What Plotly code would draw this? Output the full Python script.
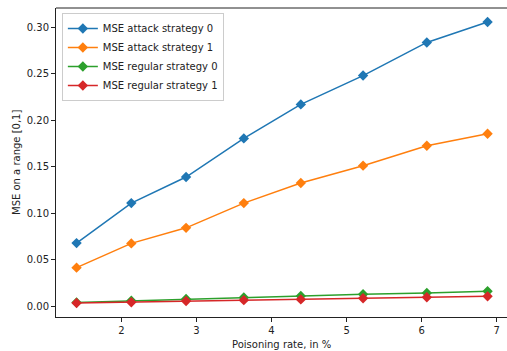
import plotly.graph_objects as go

poison_rate = [1.40, 2.13, 2.86, 3.63, 4.39, 5.22, 6.07, 6.88]
mse_attack_0 = [0.068, 0.111, 0.139, 0.1805, 0.217, 0.248, 0.2836, 0.3055]
mse_attack_1 = [0.0416, 0.0677, 0.0844, 0.111, 0.1326, 0.1512, 0.1726, 0.1855]
mse_regular_0 = [0.0042, 0.0060, 0.0080, 0.0095, 0.0112, 0.0130, 0.0145, 0.0162]
mse_regular_1 = [0.0037, 0.0045, 0.0058, 0.0067, 0.0075, 0.0087, 0.0098, 0.0108]

series = [
    ("MSE attack strategy 0", mse_attack_0, "#1f77b4"),
    ("MSE attack strategy 1", mse_attack_1, "#ff7f0e"),
    ("MSE regular strategy 0", mse_regular_0, "#2ca02c"),
    ("MSE regular strategy 1", mse_regular_1, "#d62728"),
]

fig = go.Figure()
for name, vals, color in series:
    fig.add_trace(go.Scatter(
        x=poison_rate, y=vals, name=name, mode="lines+markers",
        line=dict(color=color, width=1.5),
        marker=dict(symbol="diamond", size=8, color=color),
    ))

font = dict(family="DejaVu Sans", size=10, color="#222")
fig.update_layout(
    width=507, height=351,
    margin=dict(l=56, r=0, t=8, b=34),
    paper_bgcolor="white", plot_bgcolor="white",
    font=font,
    showlegend=True,
    legend=dict(
        x=0.013, y=0.984, xanchor="left", yanchor="top",
        bgcolor="rgba(255,255,255,0.8)", bordercolor="#cccccc", borderwidth=1,
        font=dict(family="DejaVu Sans", size=10, color="#222"),
        tracegroupgap=0, itemwidth=30,
    ),
    xaxis=dict(
        range=[1.126, 7.139], tickmode="array", tickvals=[2, 3, 4, 5, 6, 7],
        showgrid=False, zeroline=False, showline=True, linecolor="#222", linewidth=1,
        mirror=False, ticks="outside", ticklen=4, tickcolor="#222", automargin=False,
    ),
    yaxis=dict(
        range=[-0.0114, 0.3206], tickmode="array",
        tickvals=[0, 0.05, 0.10, 0.15, 0.20, 0.25, 0.30],
        ticktext=["0.00", "0.05", "0.10", "0.15", "0.20", "0.25", "0.30"],
        showgrid=False, zeroline=False, showline=True, linecolor="#222", linewidth=1,
        ticks="outside", ticklen=4, tickcolor="#222", automargin=False,
    ),
    annotations=[
        dict(text="Poisoning rate, in %", xref="paper", yref="paper",
             x=0.5, y=0, yshift=-20, xanchor="center", yanchor="top",
             showarrow=False, font=font),
        dict(text="MSE on a range [0,1]", xref="paper", yref="paper",
             x=0, y=0.5, xshift=-32, xanchor="right", yanchor="middle",
             textangle=-90, showarrow=False, font=font),
    ],
)
# top border of the axes box
fig.add_shape(type="line", xref="paper", yref="paper", x0=0, x1=1, y0=1, y1=1,
              line=dict(color="#222", width=1))

fig.write_html("out.html",
               config={"displayModeBar": False},
               post_script="document.body.style.margin='0';document.body.style.padding='0';")
